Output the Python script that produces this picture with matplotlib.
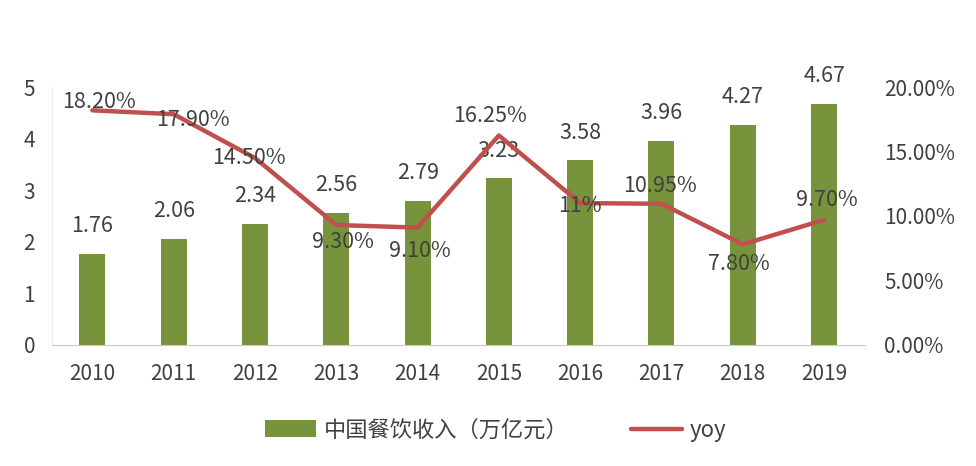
import numpy as np
import matplotlib.pyplot as plt

plt.rcParams['font.family'] = ['Noto Sans CJK SC', 'DejaVu Sans']
plt.rcParams['font.weight'] = 'light'

years = ["2010", "2011", "2012", "2013", "2014", "2015", "2016", "2017", "2018", "2019"]
revenue = [1.76, 2.06, 2.34, 2.56, 2.79, 3.23, 3.58, 3.96, 4.27, 4.67]
yoy = [18.20, 17.90, 14.50, 9.30, 9.10, 16.25, 11.0, 10.95, 7.80, 9.70]
yoy_labels = ["18.20%", "17.90%", "14.50%", "9.30%", "9.10%", "16.25%", "11%", "10.95%", "7.80%", "9.70%"]
# label offsets (points) relative to each line point
yoy_offsets = [(5, 6), (14, -4), (-4, 0), (5, -12), (2, -17), (-6, 14), (0, -2), (-1, 13), (-3, -14), (2, 14)]

green = '#77933C'
red = '#C0504D'
txt = '#404040'

fig = plt.figure(figsize=(9.76, 4.66), dpi=100)
ax = fig.add_axes([0.053, 0.26, 0.833, 0.553])
x = np.arange(len(years))

bars = ax.bar(x, revenue, 0.32, color=green, label='中国餐饮收入（万亿元）', zorder=2)
ax.set_ylim(0, 5)
ax.set_xlim(-0.5, len(years) - 0.5)
ax.set_yticks(range(0, 6))
ax.set_xticks(x)
ax.set_xticklabels(years)
ax.tick_params(axis='both', length=0, labelsize=15, colors=txt)
ax.tick_params(axis='x', pad=13)
ax.tick_params(axis='y', pad=12)
for s in ['top', 'right']:
    ax.spines[s].set_visible(False)
ax.spines['bottom'].set_color('#c8c8c8')
ax.spines['left'].set_color('#ececec')

for xi, v in zip(x, revenue):
    ax.annotate(f"{v:.2f}", (xi, v), xytext=(0, 20), textcoords='offset points',
                ha='center', va='center', fontsize=15.5, color=txt)

ax2 = ax.twinx()
line, = ax2.plot(x, yoy, color=red, lw=3.2, label='yoy', zorder=3,
                 solid_joinstyle='round', solid_capstyle='round')
ax2.set_ylim(0, 20)
ax2.set_yticks(np.arange(0, 21, 5))
ax2.set_yticklabels([f"{t:.2f}%" for t in np.arange(0, 21, 5)])
ax2.tick_params(axis='y', length=0, labelsize=15, colors=txt, pad=14)
for s in ['top', 'right', 'left', 'bottom']:
    ax2.spines[s].set_visible(False)

for xi, v, lab, off in zip(x, yoy, yoy_labels, yoy_offsets):
    ax2.annotate(lab, (xi, v), xytext=off, textcoords='offset points',
                 ha='center', va='center', fontsize=15.5, color=txt, zorder=4)

fig.legend([bars, line], ['中国餐饮收入（万亿元）', 'yoy'], loc='center',
           bbox_to_anchor=(0.508, 0.077), ncol=2, frameon=False, fontsize=16,
           handlelength=2.3, handleheight=0.8, columnspacing=2.8, handletextpad=0.35,
           labelcolor=txt)

plt.savefig('out.png', dpi=100)
